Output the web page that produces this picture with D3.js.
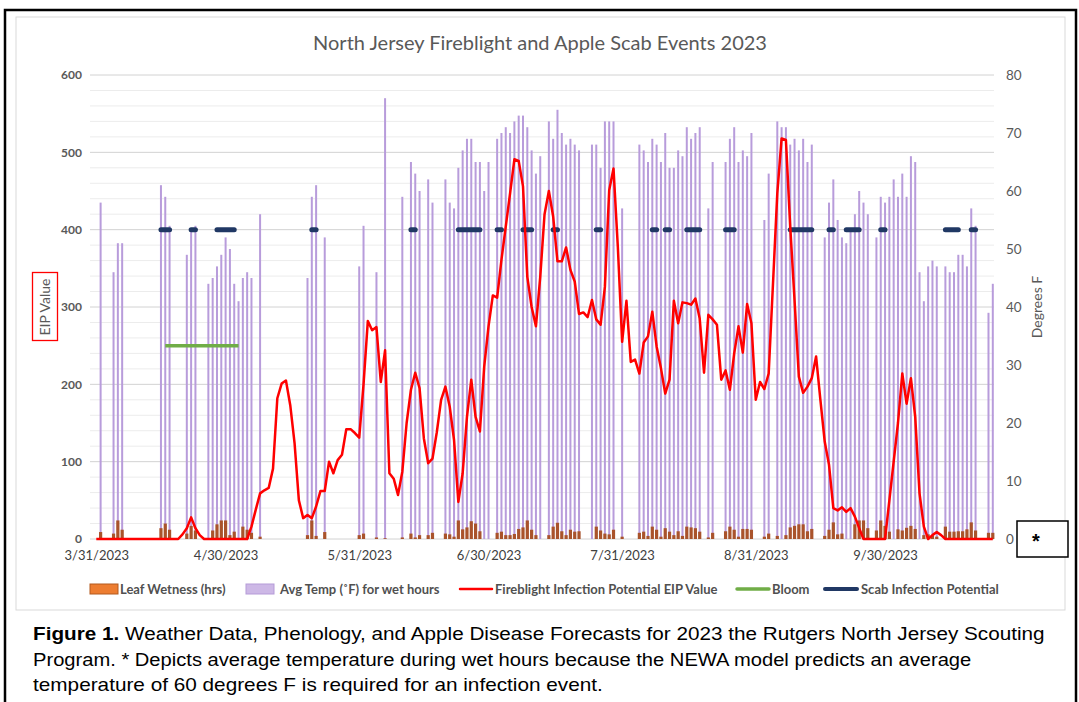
<!DOCTYPE html>
<html>
<head>
<meta charset="utf-8">
<script src="https://cdnjs.cloudflare.com/ajax/libs/d3/7.8.5/d3.min.js"></script>
<style>
  body { margin: 0; background: #fff; }
  svg { display: block; }
</style>
</head>
<body>
<div id="chart"></div>
<script>
// one value per day, starting 3/31/2023 (null = no wet hours that day)
var firstDay = "3/31/2023";
var lastDay = "10/25/2023";

var leafWetness = [
  0, 9, 0, 0, 7, 24, 12, 0, 0, 0,
  0, 0, 0, 0, 0, 14, 20, 12, 0, 0,
  0, 7, 17, 11, 0, 0, 0, 11, 19, 24,
  24, 5, 9.5, 0, 16, 12, 8, 0, 3, 0,
  0, 0, 0, 0, 0, 0, 0, 0, 0, 5,
  24, 4, 0, 9, 0, 0, 0, 0, 0, 0,
  0, 5, 7, 0, 0, 2, 0, 1, 0, 0,
  0, 2, 0, 7, 2, 5, 0, 5, 8, 0,
  0, 7, 6, 3, 24, 12.5, 15, 23, 20, 10,
  0, 0, 0, 8, 9.5, 5, 5, 6.5, 13, 15,
  24, 12, 5, 0, 0, 5, 16, 21, 10, 5,
  12, 9.5, 10, 0, 0, 0, 16, 11, 7, 6,
  12, 0, 3, 0, 0, 0, 8, 9.5, 4, 16,
  12, 3, 14, 9.5, 5, 10, 4, 16, 15, 14,
  9.5, 0, 2, 8, 0, 0, 10, 16, 12, 3,
  13, 13, 12, 0, 0, 3, 7, 0, 4, 0,
  5, 15, 17, 19, 19, 10, 13, 0, 0, 4,
  12, 21.5, 6, 7, 0, 0, 19, 24, 24, 14,
  0, 11, 24, 17, 9.5, 0, 12.5, 11, 14.5, 17,
  13, 0, 5, 6, 4, 3, 0, 16, 9.5, 9.5,
  10, 10, 12.5, 21.5, 11, 0, 0, 8, 8
];

var avgTemp = [
  null, 58, null, null, 46, 51, 51, null, null, null,
  null, null, null, null, null, 61, 59, 54, null, null,
  null, 49, 53, 54, null, null, 44, 45, 47, 49,
  52, 50, 44, 41, 45, 46, 45, null, 56, null,
  null, null, null, null, null, null, null, null, null, 45,
  59, 61, null, 52, null, null, null, null, null, null,
  null, 47, 54, null, null, 46, null, 76, null, null,
  null, 59, null, 65, 63, 60, null, 62, 58, null,
  null, 62, 58, 57, 64, 67, 69, 69, 65, 65,
  60, 65, null, 69, 70, 71, 70, 72, 73, 73,
  71, 67, 63, 66, null, 72, 69, 74, 70, 68,
  69, 68, 67, null, null, 68, 68, 64, 72, 72,
  72, null, 57, null, null, null, 68, 67, 65, 69,
  68, 65, 70, 64, 64, 67, 66, 71, 69, 70,
  71, null, 57, 65, null, null, 65, 69, 71, 65,
  67, 66, 70, null, null, 55, 63, null, 72, 71,
  71, 68, 69, 67, 69, 65, 68, null, null, 52,
  58, 62, 55, 52, 51, 53, 56, 60, 58, 56,
  null, 52, 59, 58, 59, 62, 59, 63, 59, 66,
  65, 46, 41, 47, 48, 47, null, 47, 46, 46,
  49, 49, 47, 57, 54, null, null, 39, 44
];

var eipValue = [
  0, 0, 0, 0, 0, 0, 0, 0, 0, 0,
  0, 0, 0, 0, 0, 0, 0, 0, 0, 0,
  6, 14, 28, 14, 5, 0, 0, 0, 0, 0,
  0, 0, 0, 0, 0, 0, 16, 38, 59, 63,
  66, 91, 182, 201, 205, 173, 124, 50, 27, 31,
  27, 42, 62, 62, 100, 85, 102, 109, 142, 142,
  137, 131, 200, 282, 270, 274, 203, 244, 85, 78,
  57, 87, 150, 193, 215, 195, 130, 98, 104, 138,
  180, 197, 171, 128, 48, 85, 158, 206, 158, 139,
  223, 275, 315, 312, 361, 404, 447, 491, 489, 456,
  339, 300, 275, 339, 420, 450, 417, 359, 359, 377,
  348, 333, 291, 293, 287, 309, 284, 277, 326, 451,
  479, 378, 255, 308, 229, 232, 214, 254, 262, 294,
  249, 221, 188, 206, 308, 279, 306, 305, 303, 311,
  285, 215, 290, 284, 277, 206, 218, 193, 240, 275,
  241, 304, 279, 180, 203, 194, 214, 330, 447, 518,
  516, 404, 309, 210, 189, 197, 208, 236, 180, 126,
  96, 40, 37, 41, 35, 40, 29, 14, 0, 0,
  0, 0, 0, 0, 50, 100, 150, 214, 175, 208,
  158, 59, 16, 0, 5, 9, 5, 0, 0, 0,
  0, 0, 0, 0, 0, 0, 0, 0, 0
];

var bloomStart = "4/16/2023", bloomEnd = "5/3/2023", bloomLevel = 250;

var scabLevel = 400;
var scabStart = ["4/15/2023", "4/22/2023", "4/28/2023", "5/20/2023", "6/12/2023", "6/23/2023",
  "7/2/2023", "7/8/2023", "7/15/2023", "7/25/2023", "8/7/2023", "8/10/2023", "8/15/2023",
  "8/24/2023", "9/8/2023", "9/17/2023", "9/21/2023", "9/29/2023", "10/14/2023", "10/20/2023"];
var scabEnd = ["4/17/2023", "4/23/2023", "5/2/2023", "5/21/2023", "6/13/2023", "6/28/2023",
  "7/3/2023", "7/10/2023", "7/16/2023", "7/26/2023", "8/8/2023", "8/11/2023", "8/18/2023",
  "8/26/2023", "9/13/2023", "9/18/2023", "9/24/2023", "9/30/2023", "10/17/2023", "10/21/2023"];

var dateTicks = ["3/31/2023", "4/30/2023", "5/31/2023", "6/30/2023", "7/31/2023", "8/31/2023", "9/30/2023"];
var eipTicks = [0, 100, 200, 300, 400, 500, 600];
var tempTicks = [0, 10, 20, 30, 40, 50, 60, 70, 80];

var W = 1079, H = 702;
var plotLeft = 90, plotRight = 994, plotTop = 75, plotBottom = 539;
var grey = "#595959";
var font = "Lato, 'Open Sans', sans-serif";
var arial = "'Liberation Sans', Arial, sans-serif";

var parse = d3.timeParse("%m/%d/%Y");
var fmt = d3.timeFormat("%-m/%-d/%Y");
var day0 = parse(firstDay);
var dayOf = function(i) { return d3.timeDay.offset(day0, i); };

var svg = d3.select("#chart").append("svg")
  .attr("width", W).attr("height", H);

// frames
svg.append("rect").attr("x", 5).attr("y", 10).attr("width", 1071).attr("height", 700)
  .attr("fill", "none").attr("stroke", "#000").attr("stroke-width", 2.5);
svg.append("rect").attr("x", 16).attr("y", 17).attr("width", 1049).attr("height", 593)
  .attr("fill", "none").attr("stroke", "#d9d9d9").attr("stroke-width", 1);

var x = d3.scaleTime()
  .domain([parse(firstDay), parse(lastDay)])
  .range([96.3, 992.8]);
var y = d3.scaleLinear().domain([0, 600]).range([plotBottom, plotTop]);
var y2 = d3.scaleLinear().domain([0, 80]).range([plotBottom, plotTop]);

// gridlines: minor every 20, major every 100
var grid = svg.append("g");
grid.selectAll("line.minor")
  .data(y.ticks(30).filter(function(d) { return d % 100 != 0; }))
  .enter().append("line")
    .attr("x1", plotLeft).attr("x2", plotRight)
    .attr("y1", function(d) { return y(d); })
    .attr("y2", function(d) { return y(d); })
    .attr("stroke", "#ececec").attr("stroke-width", 1);
grid.selectAll("line.major")
  .data(eipTicks)
  .enter().append("line")
    .attr("x1", plotLeft).attr("x2", plotRight)
    .attr("y1", function(d) { return y(d); })
    .attr("y2", function(d) { return y(d); })
    .attr("stroke", "#d2d2d2").attr("stroke-width", 1);

// Avg temp bars (secondary axis)
var tempData = avgTemp.map(function(v, i) { return {date: dayOf(i), v: v}; })
  .filter(function(d) { return d.v != null; });
svg.append("g").selectAll("rect")
  .data(tempData)
  .enter().append("rect")
    .attr("x", function(d) { return x(d.date) - 1; })
    .attr("width", 2)
    .attr("y", function(d) { return y2(d.v); })
    .attr("height", function(d) { return plotBottom - y2(d.v); })
    .attr("fill", "#b89cdb");

// Leaf wetness bars
var lwData = leafWetness.map(function(v, i) { return {date: dayOf(i), v: v}; })
  .filter(function(d) { return d.v > 0; });
svg.append("g").selectAll("rect")
  .data(lwData)
  .enter().append("rect")
    .attr("x", function(d) { return x(d.date) - 1.6; })
    .attr("width", 3.2)
    .attr("y", function(d) { return y(d.v); })
    .attr("height", function(d) { return plotBottom - y(d.v); })
    .attr("fill", "#a9532b");

// Bloom
svg.append("line")
  .attr("x1", x(parse(bloomStart))).attr("x2", x(parse(bloomEnd)))
  .attr("y1", y(bloomLevel)).attr("y2", y(bloomLevel))
  .attr("stroke", "#70ad47").attr("stroke-width", 3.5);

// Scab infection potential
svg.append("g").selectAll("line")
  .data(scabStart.map(function(s, i) { return [parse(s), parse(scabEnd[i])]; }))
  .enter().append("line")
    .attr("x1", function(d) { return x(d[0]); })
    .attr("x2", function(d) { return x(d[1]); })
    .attr("y1", y(scabLevel)).attr("y2", y(scabLevel))
    .attr("stroke", "#203864").attr("stroke-width", 5)
    .attr("stroke-linecap", "round");

// Fireblight EIP line
var eipLine = d3.line()
  .x(function(d, i) { return x(dayOf(i)); })
  .y(function(d) { return y(d); });
svg.append("path")
  .datum(eipValue)
  .attr("d", eipLine)
  .attr("fill", "none")
  .attr("stroke", "#ff0000")
  .attr("stroke-width", 2.5)
  .attr("stroke-linejoin", "round");

// axes
var leftAxis = svg.append("g")
  .attr("transform", "translate(" + (plotLeft - 8) + ",0)")
  .call(d3.axisLeft(y).tickValues(eipTicks).tickSize(0).tickPadding(0));
leftAxis.select(".domain").remove();
leftAxis.selectAll("text")
  .attr("fill", grey).style("font-family", font)
  .style("font-size", "12px").style("font-weight", "bold");

var rightAxis = svg.append("g")
  .attr("transform", "translate(1006,0)")
  .call(d3.axisRight(y2).tickValues(tempTicks).tickSize(0).tickPadding(0));
rightAxis.select(".domain").remove();
rightAxis.selectAll("text")
  .attr("fill", grey).style("font-family", font).style("font-size", "13.5px");

var bottomAxis = svg.append("g")
  .attr("transform", "translate(0," + (plotBottom + 12) + ")")
  .call(d3.axisBottom(x).tickValues(dateTicks.map(parse)).tickFormat(fmt).tickSize(0).tickPadding(0));
bottomAxis.select(".domain").remove();
bottomAxis.selectAll("text")
  .attr("fill", "#404040").style("font-family", font).style("font-size", "13px");

// axis titles
svg.append("text")
  .attr("transform", "translate(50,307)rotate(-90)")
  .attr("text-anchor", "middle")
  .attr("fill", grey).style("font-family", font).style("font-size", "14px")
  .text("EIP Value");
svg.append("rect").attr("x", 32.5).attr("y", 272.5).attr("width", 25).attr("height", 68)
  .attr("fill", "none").attr("stroke", "#ff0000").attr("stroke-width", 1.3);
svg.append("text")
  .attr("transform", "translate(1042,307)rotate(-90)")
  .attr("text-anchor", "middle")
  .attr("fill", grey).style("font-family", font).style("font-size", "14px")
  .text("Degrees F");

// title
svg.append("text")
  .attr("x", 540).attr("y", 50)
  .attr("text-anchor", "middle")
  .attr("fill", grey).style("font-family", font).style("font-size", "20px")
  .text("North Jersey Fireblight and Apple Scab Events 2023");

// legend
var legendY = 589;
var legendItems = [
  {label: "Leaf Wetness (hrs)", type: "rect", fill: "#ed7d31", stroke: "#b35a1f", x: 90, tx: 120},
  {label: "Avg Temp (\u02daF) for wet hours", type: "rect", fill: "#cdb8e6", stroke: "#b59bd8", x: 246, tx: 280},
  {label: "Fireblight Infection Potential EIP Value", type: "line", stroke: "#ff0000", w: 2.5, x: 460, tx: 495},
  {label: "Bloom", type: "line", stroke: "#70ad47", w: 3.5, x: 737, tx: 772},
  {label: "Scab Infection Potential", type: "line", stroke: "#203864", w: 4, x: 825, tx: 861}
];
var legend = svg.append("g");
legendItems.forEach(function(it) {
  if (it.type == "rect") {
    legend.append("rect").attr("x", it.x).attr("y", legendY - 5).attr("width", 28).attr("height", 10)
      .attr("fill", it.fill).attr("stroke", it.stroke).attr("stroke-width", 1);
  } else {
    legend.append("line").attr("x1", it.x).attr("x2", it.x + 32)
      .attr("y1", legendY).attr("y2", legendY)
      .attr("stroke", it.stroke).attr("stroke-width", it.w).attr("stroke-linecap", "round");
  }
  legend.append("text").attr("x", it.tx).attr("y", legendY + 4.5)
    .attr("fill", "#505050").style("font-family", font).style("font-size", "13px")
    .style("font-weight", "bold")
    .text(it.label);
});

// "*" note box
svg.append("rect").attr("x", 1017).attr("y", 521).attr("width", 51).attr("height", 36)
  .attr("fill", "#fff").attr("stroke", "#000").attr("stroke-width", 1.5);
svg.append("text").attr("x", 1036).attr("y", 548)
  .attr("text-anchor", "middle")
  .style("font-family", arial).style("font-size", "20px")
  .style("font-weight", "bold").text("*");

// caption, each line stretched to the width it has in the figure
var captionLines = [
  {bold: "Figure 1.", text: " Weather Data, Phenology, and Apple Disease Forecasts for 2023 the Rutgers North Jersey Scouting", y: 640, width: 1012},
  {bold: "", text: "Program. * Depicts average temperature during wet hours because the NEWA model predicts an average", y: 666, width: 939},
  {bold: "", text: "temperature of 60 degrees F is required for an infection event.", y: 691, width: 570}
];
captionLines.forEach(function(c) {
  var t = svg.append("text")
    .attr("x", 0).attr("y", 0)
    .style("font-family", arial).style("font-size", "18.5px").attr("fill", "#000");
  if (c.bold) t.append("tspan").style("font-weight", "bold").text(c.bold);
  t.append("tspan").text(c.text);
  var w = t.node().getComputedTextLength();
  t.attr("transform", "translate(33," + c.y + ")scale(" + (c.width / w) + ",1)");
});
</script>
</body>
</html>
